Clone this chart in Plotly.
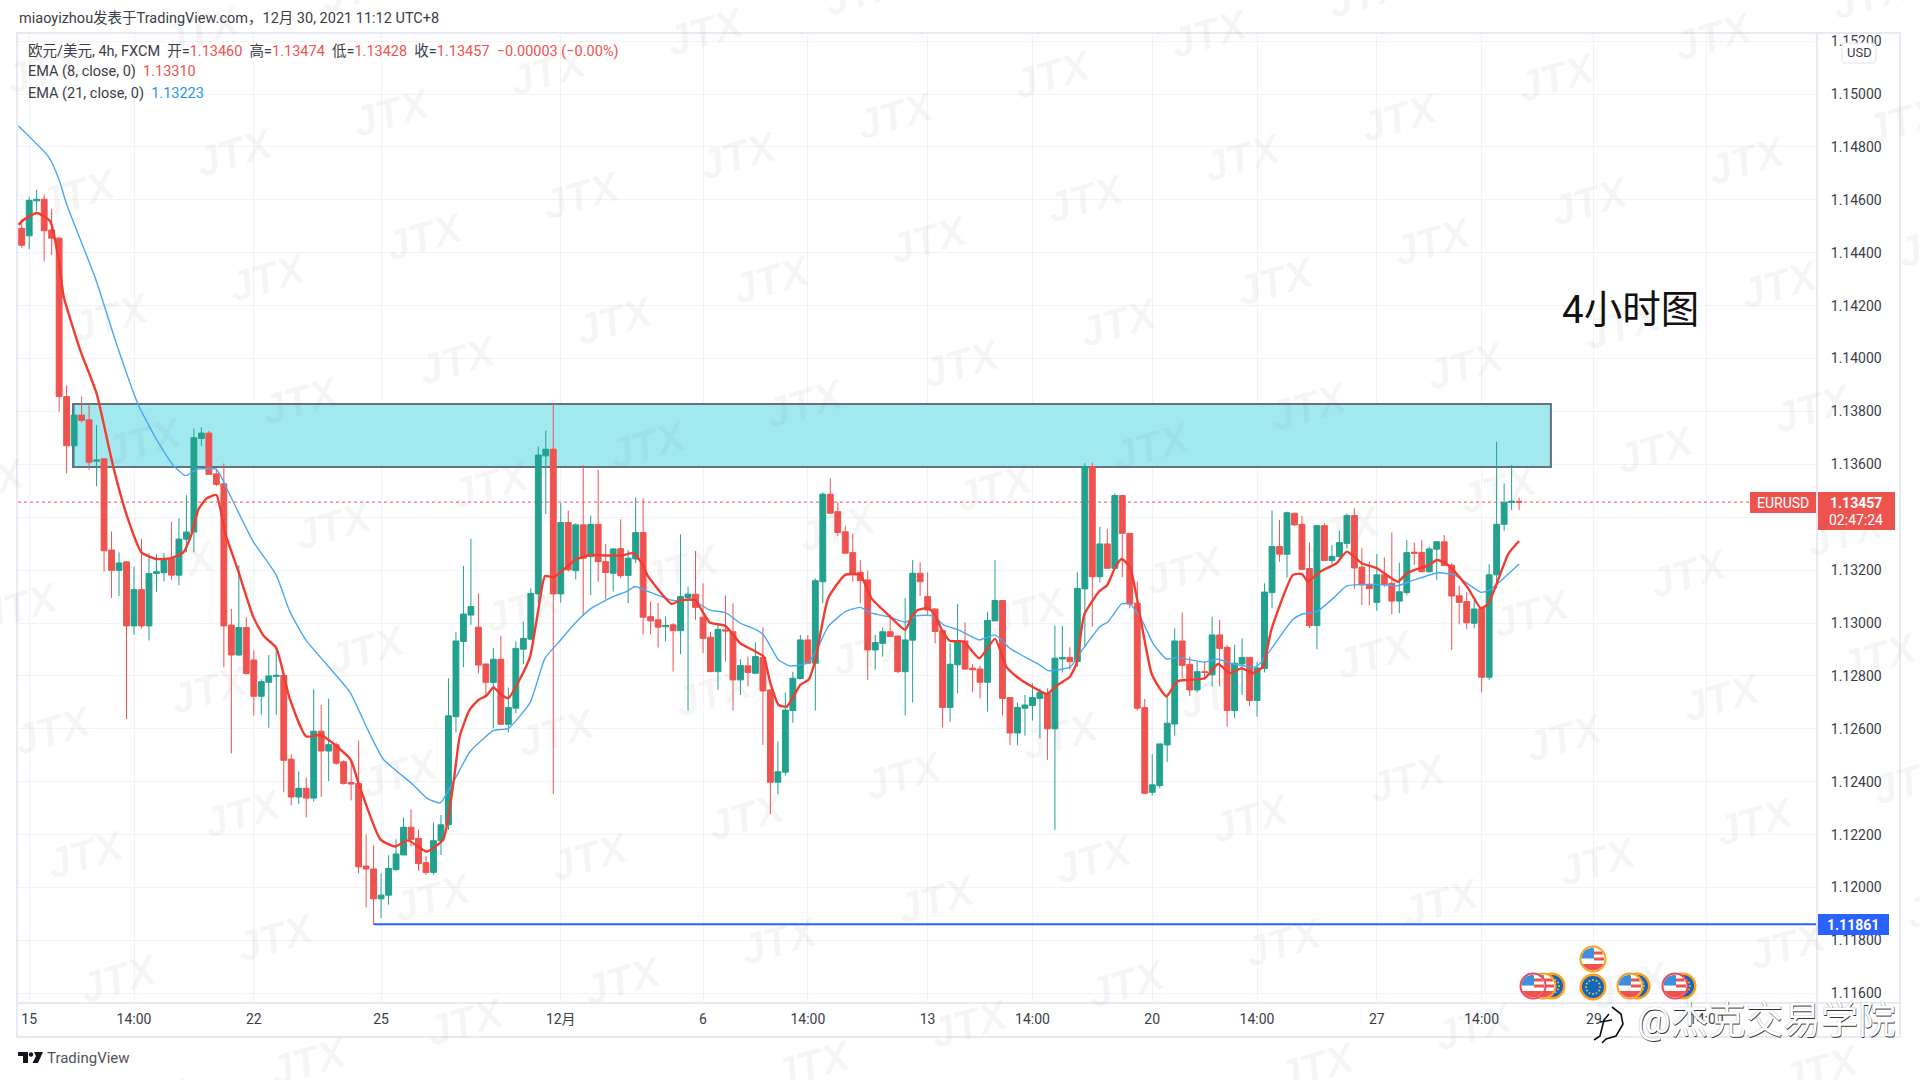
import numpy as np
import plotly.graph_objects as go

# Candle values, in points (1e-5) above 1.10000
open_pts = [
 4492,4464,4596,4602,4486,4455,3856,3670,3786,3768,
 3612,3621,3276,3199,3231,2989,3126,2989,3187,3190,
 3242,3181,3317,3344,3698,3718,3564,3526,2992,2879,
 2983,2860,2723,2776,2798,2802,2485,2342,2375,2338,
 2591,2516,2540,2475,2397,2393,2081,2070,1957,1971,
 2068,2123,2228,2186,2094,2057,2177,2237,2646,2930,
 3030,2984,2845,2775,2863,2617,2678,2901,2939,3110,
 3632,3657,3110,3380,3198,3371,3251,3373,3232,3188,
 3281,3180,3242,3342,3024,3012,2986,2993,2971,3096,
 3109,3022,2946,2816,2974,2967,2785,2838,2810,2870,
 2747,2398,2436,2669,2790,2936,2848,3156,3487,3421,
 3345,3266,3192,3163,2898,2923,2967,2951,2816,2935,
 3188,3100,3053,2971,2681,2842,2932,2829,2826,2776,
 3008,3085,2718,2584,2678,2688,2715,2734,2600,2864,
 2870,2854,3129,3591,3175,3299,3207,3482,3339,3075,
 2680,2360,2385,2539,2618,2932,2844,2747,2816,2804,
 2955,2908,2669,2845,2870,2707,2828,3115,3289,3260,
 3415,3373,3206,2990,3368,3236,3251,3301,3406,3211,
 3146,3078,3182,3150,3083,3115,3268,3267,3194,3279,
 3307,3219,3103,3081,2999,3055,2795,3182,3373,3456,
 3460]
high_pts = [
 4519,4611,4638,4620,4565,4459,3898,3828,3856,3823,
 3749,3621,3346,3267,3234,3212,3319,3264,3260,3264,
 3383,3397,3484,3735,3740,3726,3584,3603,3053,3218,
 3022,2897,2787,2879,2906,2805,2503,2439,2415,2750,
 2690,2714,2549,2481,2475,2554,2200,2160,2054,2122,
 2182,2265,2296,2219,2118,2246,2274,2791,2967,3216,
 3318,3112,2845,2905,2951,2756,2930,3005,3131,3667,
 3727,3828,3453,3425,3377,3597,3406,3579,3299,3282,
 3392,3276,3475,3471,3081,3075,3024,2999,3335,3138,
 3272,3150,2967,2993,3104,3075,2863,2873,2927,2984,
 2747,2552,2737,2816,2955,2955,3169,3494,3547,3456,
 3368,3337,3238,3198,2955,2983,3030,2951,3094,3238,
 3230,3192,3056,2971,2923,3072,3003,2845,2839,3043,
 3238,3087,2718,2699,2728,2772,2753,2753,2990,2989,
 2908,3192,3604,3606,3364,3356,3490,3484,3339,3156,
 2713,2504,2543,2734,2980,3039,2873,2854,2854,3024,
 3012,2917,2917,2942,2870,2854,3150,3425,3390,3421,
 3417,3405,3304,3371,3377,3295,3349,3415,3434,3283,
 3232,3261,3248,3342,3228,3314,3304,3314,3289,3310,
 3333,3228,3141,3116,3087,3062,3222,3685,3528,3597,
 3474]
low_pts = [
 4418,4413,4556,4367,4391,3799,3566,3594,3758,3579,
 3517,3194,3095,3102,2637,2956,2979,2934,3117,3157,
 3163,3143,3267,3267,3670,3561,3517,2833,2507,2875,
 2805,2650,2653,2604,2653,2360,2310,2316,2265,2325,
 2343,2402,2463,2389,2329,2054,1925,1861,1885,1935,
 2063,2123,2155,2063,2048,2048,2123,2218,2586,2833,
 2993,2810,2728,2602,2617,2586,2659,2845,2936,3075,
 3412,2353,3077,3194,3165,3027,3106,3156,3091,3119,
 3169,3075,3226,2957,2957,2907,2930,2816,2882,2669,
 3012,2886,2816,2747,2854,2669,2728,2760,2810,2539,
 2278,2353,2423,2623,2787,2848,2669,3075,3415,3329,
 3264,3156,3075,2785,2823,2873,2949,2810,2650,2700,
 3102,3031,2923,2605,2627,2734,2823,2738,2715,2665,
 3008,2650,2539,2539,2574,2631,2564,2482,2218,2813,
 2823,2835,2907,2986,3153,3207,3207,3173,3056,2669,
 2353,2348,2375,2474,2574,2791,2724,2738,2785,2760,
 2760,2608,2640,2728,2686,2646,2813,3056,3232,3172,
 3367,3201,2980,2901,3236,3223,3247,3282,3129,3068,
 3066,3046,3137,3033,3037,3106,3219,3192,3190,3163,
 3216,2898,2995,2976,2980,2738,2785,3131,3348,3427,
 3428]
close_pts = [
 4428,4598,4602,4483,4455,3856,3670,3786,3766,3608,
 3616,3273,3199,3227,2989,3126,2989,3187,3194,3242,
 3181,3317,3344,3700,3718,3562,3524,2989,2879,2983,
 2809,2723,2778,2800,2802,2481,2342,2375,2338,2591,
 2516,2540,2470,2393,2391,2078,2070,1957,1971,2072,
 2127,2228,2182,2090,2057,2177,2237,2649,2932,3034,
 3062,2841,2776,2863,2617,2681,2904,2942,3112,3635,
 3657,3110,3380,3201,3371,3245,3373,3232,3191,3280,
 3179,3245,3342,3022,3008,2984,2991,2971,3100,3109,
 3059,2942,2816,2976,2970,2785,2839,2813,2873,2743,
 2398,2438,2671,2791,2936,2848,3160,3487,3415,3342,
 3264,3188,3160,2898,2926,2967,2949,2816,2936,3188,
 3156,3049,2968,2681,2844,2932,2826,2823,2776,3010,
 3085,2715,2584,2681,2690,2718,2737,2600,2867,2870,
 2854,3131,3591,3175,3299,3207,3482,3339,3072,2678,
 2356,2388,2543,2621,2932,2840,2747,2816,2813,2955,
 2904,2669,2848,2870,2707,2830,3117,3289,3260,3417,
 3371,3203,2990,3368,3236,3252,3304,3406,3208,3144,
 3130,3182,3146,3083,3118,3266,3263,3194,3280,3307,
 3217,3102,3078,3001,3053,2795,3182,3373,3456,3460,
 3457]

# Moving averages: (bar index, points above 1.10000)
ema8_bars = [-0.4,0,2,3.8,5,5.6,7.8,10,12.2,14,16,18,20,21.6,22.7,23.6,24.7,26,27.2,28.9,30.9,32.3,34,35.8,38,40,43.9,45,47.9,49.9,51.6,54.1,56.3,57.7,
 58.5,59.8,61,62.1,63,64.1,65,66.6,67.9,69,69.9,71,72.6,73.9,75.9,78.1,80.1,81.7,82.8,83.7,86.8,87.9,89.9,91.9,94,96,98,99.1,100,101.1,102.2,104,105.1,106,107.7,110,112,113.5,116,
 118,118.9,119.7,121.1,122,122.9,124,125.8,127.9,130,131.5,132.9,135.1,136.9,138.4,140,140.9,141.9,143.9,145,146,146.9,148,149,149.8,150.9,152,152.9,154.3,155.8,158,159.8,161.4,162.9,164.5,165.8,166.9,169.8,171,171.8,173.4,175.6,177,
 179,181,183.8,185,186,188,189,190.2,191.4,193.2,194.9,195.9,197.1,198.6,200]
ema8_pts = [4505,4519,4550,4519,4363,4235,4033,3868,3594,3410,3267,3242,3245,3267,3337,3429,3471,3484,3337,3199,3025,2952,2906,2714,2571,2576,2485,2393,2182,2155,2178,2136,2182,2402,
 2571,2671,2709,2726,2756,2728,2716,2791,2873,3049,3178,3173,3207,3238,3257,3255,3255,3264,3226,3175,3072,3085,3087,3002,2989,2923,2892,2873,2772,2690,2684,2766,2785,2860,3093,3182,3182,3093,3024,
 2974,3024,3049,3056,3030,2974,2932,2930,2867,2940,2835,2797,2757,2732,2766,2797,2848,3030,3119,3144,3207,3242,3213,3087,2961,2810,2753,2722,2779,2785,2791,2845,2810,2829,2810,2835,2974,3182,3185,3157,3194,3226,3270,
 3226,3207,3156,3188,3200,3219,3238,3226,3194,3131,3055,3074,3156,3263,3310]
ema21_bars = [-0.44,3.6,5,6,9.9,12.7,15.6,18,20.3,21.9,23.4,26,27.8,30.9,34,35.8,38,41.6,43.9,46.1,48.3,52.1,54.1,55.9,57.7,
 59.9,63,65,67.9,69.9,71.9,73.9,76.1,79,80.8,81.9,83.5,87,89.7,91.9,94,96,98,99.1,101.1,102.6,104.9,106.2,107.7,110,112,113.5,116,118,
 119.5,121.8,123.1,125.1,127.9,130,132,136,137.1,140,141.8,144,145.1,146.9,148,149.6,151.1,152.9,154.3,158,159.8,161.8,164.9,166.3,169.8,171,173,175.2,177,
 181,183.8,186,189.2,191.4,194.9,196.1,200]
ema21_pts = [4879,4762,4675,4583,4299,4052,3823,3694,3594,3557,3581,3581,3484,3309,3181,3044,2934,2815,2736,2604,2485,2393,2338,2320,2402,
 2514,2593,2602,2699,2867,2933,2999,3056,3100,3119,3138,3121,3085,3085,3049,3039,2999,2976,2955,2860,2838,2848,2898,2986,3043,3059,3037,3022,3003,
 3027,3027,2993,2974,2936,2955,2904,2841,2820,2833,2904,2986,3005,3072,3072,3012,2923,2864,2870,2852,2863,2845,2835,2879,3014,3033,3043,3094,3140,
 3146,3141,3163,3190,3181,3116,3125,3223]

x_tick_bars = [1,15,31,48,72,91,105,121,135,151,165,181,195,210,225]
x_tick_text = ["15","14:00","22","25","12月","6","14:00","13","14:00","20","14:00","27","14:00","29","14:00"]
y_ticks = [1.116,1.118,1.12,1.122,1.124,1.126,1.128,1.13,1.132,1.134,1.136,1.138,1.14,1.142,1.144,1.146,1.148,1.15,1.152]

band_bars = (6.85, 204.25)
band_prices = (1.13590, 1.13828)
support_start_bar = 47
support_price = 1.11861
last_price = 1.13457

W, H = 1920, 1080
PLOT_L, PLOT_R, PLOT_T, PLOT_B = 18, 1817, 33, 1003
Y_TOP = 1.15 + (94 - PLOT_T) / 26450
Y_BOT = 1.15 - (PLOT_B - 94) / 26450
X_LO = (PLOT_L - 21.7) / 7.487
X_HI = (PLOT_R - 21.7) / 7.487

UP = "#22a18f"
DOWN = "#ef5350"
TEXT = "#3a3d47"
FRAME = "#e8e9f2"
GRID = "#f1f3f8"
SANS = "Roboto, 'Noto Sans CJK SC', sans-serif"


def to_price(points):
    return 1.1 + np.asarray(points, dtype=float) / 1e5


def px(x):
    return x / W


def py(y):
    return 1 - y / H


def page_rect(x0, y0, x1, y1, fill=None, line=None, width=1, layer="above"):
    return dict(type="rect", xref="paper", yref="paper", x0=px(x0), x1=px(x1), y0=py(y0), y1=py(y1),
                fillcolor=fill or "rgba(0,0,0,0)", line=dict(color=line or "rgba(0,0,0,0)", width=width), layer=layer)


def page_circle(cx, cy, r, fill, line=None, width=0):
    return dict(type="circle", xref="paper", yref="paper", x0=px(cx - r), x1=px(cx + r), y0=py(cy - r), y1=py(cy + r),
                fillcolor=fill, line=dict(color=line or "rgba(0,0,0,0)", width=width), layer="above")


def page_poly(pts, fill, line=None, width=0, closed=True):
    d = "M " + " L ".join(f"{px(x):.5f},{py(y):.5f}" for x, y in pts) + (" Z" if closed else "")
    return dict(type="path", xref="paper", yref="paper", path=d, fillcolor=fill if closed else None,
                line=dict(color=line or "rgba(0,0,0,0)", width=width), layer="above")


def disc_slice(cx, cy, r, top, bottom, x_max=None):
    """Polygon of a disc between two horizontal offsets, optionally cut on the right."""
    ys = np.linspace(top, bottom, 9)
    half = np.sqrt(np.maximum(r * r - ys * ys, 0))
    left = [(cx - h, cy + y) for h, y in zip(half, ys)]
    right = [(cx + (min(h, x_max) if x_max is not None else h), cy + y) for h, y in zip(half, ys)]
    return left + right[::-1]


def us_badge(cx, cy, ring):
    r = 11.5
    return [
        page_circle(cx, cy, 13.5, ring),
        page_circle(cx, cy, r, "#ffffff"),
        page_poly(disc_slice(cx, cy, r, -r, -0.5, 1.0), "#3f8fe0"),
        page_poly([(cx + 1, cy - 7.5), (cx + 9, cy - 7.5), (cx + 10, cy - 4.5), (cx + 1, cy - 4.5)], "#ef5350"),
        page_poly([(cx + 1, cy - 1.5), (cx + 11, cy - 1.5), (cx + 11, cy + 1.5), (cx + 1, cy + 1.5)], "#ef5350"),
        page_poly(disc_slice(cx, cy, r, 5, r), "#ef5350"),
    ]


def eu_badge(cx, cy):
    stars = []
    for a in np.linspace(0, 2 * np.pi, 12, endpoint=False):
        stars.append(page_circle(cx + 7 * np.cos(a), cy + 7 * np.sin(a), 0.9, "#f5c842"))
    return [page_circle(cx, cy, 13.5, "#ff9f1c"), page_circle(cx, cy, 11, "#1565b8")] + stars


fig = go.Figure()

fig.add_trace(go.Candlestick(
    x=list(range(len(open_pts))),
    open=to_price(open_pts), high=to_price(high_pts), low=to_price(low_pts), close=to_price(close_pts),
    increasing=dict(line=dict(color=UP, width=1), fillcolor=UP),
    decreasing=dict(line=dict(color=DOWN, width=1), fillcolor=DOWN),
    whiskerwidth=0, hoverinfo="skip", showlegend=False,
))
fig.add_trace(go.Scatter(x=ema21_bars, y=to_price(ema21_pts), mode="lines", line_shape="spline",
                         line=dict(color="#4aa8f4", width=1.4, smoothing=0.5), hoverinfo="skip", showlegend=False))
fig.add_trace(go.Scatter(x=ema8_bars, y=to_price(ema8_pts), mode="lines", line_shape="spline",
                         line=dict(color="#f23c30", width=2.4, smoothing=0.5), hoverinfo="skip", showlegend=False))

shapes = [
    # resistance zone, last price and support level
    dict(type="rect", xref="x", yref="y", x0=band_bars[0], x1=band_bars[1], y0=band_prices[0], y1=band_prices[1],
         fillcolor="#a2e8ef", line=dict(color="#66727e", width=2), layer="between"),
    dict(type="line", xref="x", yref="y", x0=X_LO, x1=X_HI, y0=last_price, y1=last_price,
         line=dict(color=DOWN, width=1, dash="dot"), layer="between"),
    dict(type="line", xref="x", yref="y", x0=support_start_bar, x1=X_HI, y0=support_price, y1=support_price,
         line=dict(color="#2962ff", width=2), layer="above"),
    # frame around the chart and its axis strips
    page_rect(PLOT_L - 1, PLOT_T, 1900, 1037, line=FRAME, width=2),
    dict(type="line", xref="paper", yref="paper", x0=px(PLOT_R), x1=px(PLOT_R), y0=py(PLOT_T), y1=py(1037),
         line=dict(color=FRAME, width=2), layer="above"),
    dict(type="line", xref="paper", yref="paper", x0=px(PLOT_L), x1=px(1900), y0=py(PLOT_B), y1=py(PLOT_B),
         line=dict(color=FRAME, width=2), layer="above"),
    # price tags on the axis
    page_rect(1750, 492, 1816, 513, fill=DOWN),
    page_rect(1818, 492, 1895, 530, fill=DOWN),
    page_rect(1818, 914, 1889, 935, fill="#2962ff"),
    # currency badge
    dict(type="path", xref="paper", yref="paper", layer="above", fillcolor="#ffffff",
         line=dict(color="#e0e3eb", width=1),
         path=" ".join([f"M {px(1846):.5f},{py(43):.5f}", f"L {px(1872):.5f},{py(43):.5f}",
                        f"Q {px(1876):.5f},{py(43):.5f} {px(1876):.5f},{py(47):.5f}",
                        f"L {px(1876):.5f},{py(59):.5f}",
                        f"Q {px(1876):.5f},{py(63):.5f} {px(1872):.5f},{py(63):.5f}",
                        f"L {px(1846):.5f},{py(63):.5f}",
                        f"Q {px(1842):.5f},{py(63):.5f} {px(1842):.5f},{py(59):.5f}",
                        f"L {px(1842):.5f},{py(47):.5f}",
                        f"Q {px(1842):.5f},{py(43):.5f} {px(1846):.5f},{py(43):.5f} Z"])),
    # TradingView mark
    page_poly([(18, 1052), (28, 1052), (28, 1063), (23, 1063), (23, 1056), (18, 1056)], "#131722"),
    page_circle(31, 1054.5, 2.2, "#131722"),
    page_poly([(34, 1052), (43, 1052), (38, 1063), (32.5, 1063), (36, 1056)], "#131722"),
    # publisher mark beside the handle
    page_poly([(1612, 1007), (1621, 1014), (1623, 1024), (1616, 1036), (1606, 1039), (1602, 1043)],
              None, line="#111111", width=1.6, closed=False),
    page_poly([(1609, 1014), (1604, 1020), (1600, 1036), (1594, 1040)], None, line="#111111", width=1.6, closed=False),
    page_poly([(1600, 1022), (1612, 1020)], None, line="#111111", width=1.4, closed=False),
]

# economic calendar badges along the bottom of the pane
shapes += eu_badge(1552, 986) + us_badge(1543, 986, "#ff9f1c") + us_badge(1533, 986, "#f0485a")
shapes += us_badge(1593, 959, "#ff9f1c") + eu_badge(1593, 987)
shapes += eu_badge(1637, 986) + us_badge(1630, 986, "#ff9f1c")
shapes += eu_badge(1683, 986) + us_badge(1675, 986, "#f0485a")


def note(x, y, text, size=13, color=TEXT, family=SANS, anchor="left", **kw):
    return dict(xref="paper", yref="paper", x=px(x), y=py(y), text=text, showarrow=False, xanchor=anchor,
                yanchor="middle", align="left", font=dict(family=family, size=size, color=color, **kw))


def red(s):
    return f'<span style="color:{DOWN}">{s}</span>'


annotations = []

# repeating JTX watermark across the page
for m in range(-8, 16):
    for n in range(-6, 12):
        wx = 581.6 + 157 * m + 33 * n
        wy = 196 - 40.5 * m + 124 * n
        if -40 < wx < W + 40 and -30 < wy < H + 30:
            annotations.append(dict(xref="paper", yref="paper", x=px(wx), y=py(wy), text="<b><i>JTX</i></b>",
                                    showarrow=False, textangle=-16, xanchor="center", yanchor="middle",
                                    font=dict(family="'Liberation Sans'", size=42, color="rgba(110,110,120,0.06)")))

annotations += [
    note(17, 18, "miaoyizhou发表于TradingView.com，12月 30, 2021 11:12 UTC+8", size=14.5),
    note(26, 51, "欧元/美元, 4h, FXCM  开=" + red("1.13460") + "  高=" + red("1.13474") + "  低=" + red("1.13428")
         + "  收=" + red("1.13457") + "  " + red("−0.00003 (−0.00%)"), size=14.5),
    note(26, 72, "EMA (8, close, 0)  " + red("1.13310"), size=14.5),
    note(26, 93, 'EMA (21, close, 0)  <span style="color:#2196f3">1.13223</span>', size=14.5),
    note(1560, 309, "4小时图", size=38.5, color="#111111"),
    note(1783, 502.5, "EURUSD", size=14, color="#ffffff", anchor="center"),
    note(1856, 503, "<b>1.13457</b>", size=14, color="#ffffff", anchor="center"),
    note(1856, 520, "02:47:24", size=14, color="#ffffff", anchor="center"),
    note(1853, 924.5, "<b>1.11861</b>", size=14, color="#ffffff", anchor="center"),
    note(1859, 53, "USD", size=13, anchor="center"),
    note(45, 1058, "TradingView", size=15, color="#50535e"),
    note(1635, 1020, "@杰克交易学院", size=37.5, color="#ffffff", shadow="0.7px 0.7px 0 #333, 0 0 1px #999"),
]

fig.update_layout(
    width=W, height=H, margin=dict(l=0, r=0, t=0, b=0),
    paper_bgcolor="#ffffff", plot_bgcolor="#ffffff",
    showlegend=False, boxgap=0.22, boxgroupgap=0, dragmode=False,
    font=dict(family=SANS, size=13, color=TEXT),
    shapes=shapes, annotations=annotations,
    xaxis=dict(domain=[px(PLOT_L), px(PLOT_R)], range=[X_LO, X_HI], rangeslider=dict(visible=False),
               tickmode="array", tickvals=x_tick_bars, ticktext=x_tick_text, showgrid=True, gridcolor=GRID, gridwidth=1,
               ticks="outside", ticklen=3, tickcolor="rgba(0,0,0,0)", zeroline=False, showline=False,
               tickfont=dict(family=SANS, size=14, color=TEXT)),
    yaxis=dict(domain=[py(PLOT_B), py(PLOT_T)], range=[Y_BOT, Y_TOP], side="right", anchor="x",
               tickmode="array", tickvals=y_ticks, ticktext=[f"{v:.5f}" for v in y_ticks],
               showgrid=True, gridcolor=GRID, gridwidth=1, ticks="outside", ticklen=10,
               tickcolor="rgba(0,0,0,0)", zeroline=False, showline=False,
               tickfont=dict(family=SANS, size=14, color=TEXT)),
)

fig.write_html("out.html", config={"displayModeBar": False})
